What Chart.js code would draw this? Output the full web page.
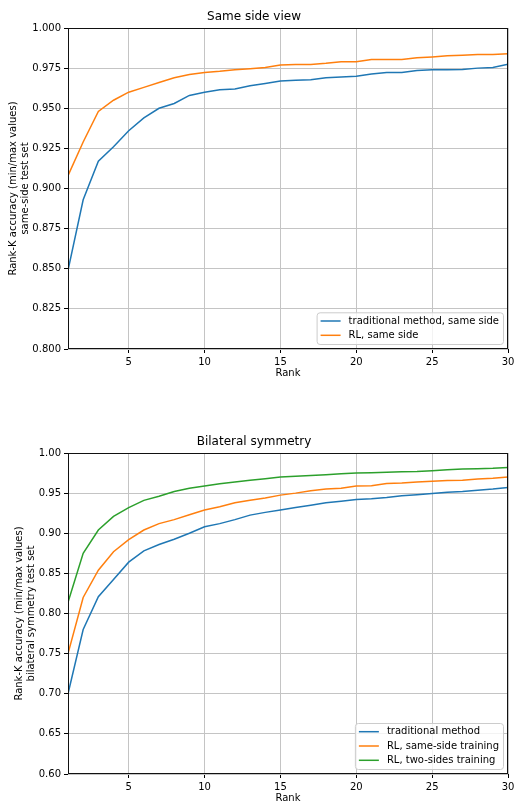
<!DOCTYPE html>
<html><head><meta charset="utf-8">
<script src="https://cdn.jsdelivr.net/npm/chart.js@4"></script>
<style>
html,body{margin:0;padding:0;background:#fff;overflow:hidden;width:514px;height:803px;position:relative}
canvas{display:block;position:absolute;left:0}
#c1{top:0}
#c2{top:400px}
</style></head><body>
<canvas id="c1" width="514" height="400"></canvas>
<canvas id="c2" width="514" height="420"></canvas>
<script>
// ---- data ----
const ranks = [1,2,3,4,5,6,7,8,9,10,11,12,13,14,15,16,17,18,19,20,21,22,23,24,25,26,27,28,29,30];
const rankTicks = [5,10,15,20,25,30];

const sameTraditional = [0.849,0.893,0.917,0.926,0.936,0.944,0.950,0.953,0.958,0.960,0.9615,0.962,0.964,0.9654,0.967,0.9675,0.9677,0.969,0.9694,0.970,0.9713,0.9723,0.9723,0.9735,0.974,0.974,0.9742,0.975,0.9754,0.9775];
const sameRL = [0.908,0.929,0.948,0.955,0.960,0.963,0.966,0.969,0.971,0.9723,0.973,0.974,0.9746,0.9754,0.977,0.9773,0.9773,0.978,0.979,0.979,0.9804,0.9804,0.9804,0.9815,0.982,0.9827,0.983,0.9835,0.9835,0.984];

const bilTraditional = [0.700,0.780,0.821,0.8425,0.864,0.878,0.886,0.8925,0.900,0.908,0.912,0.917,0.9226,0.926,0.929,0.932,0.935,0.938,0.940,0.942,0.943,0.9446,0.9467,0.948,0.9496,0.951,0.952,0.9535,0.955,0.957];
const bilRLSame = [0.750,0.820,0.854,0.877,0.892,0.904,0.912,0.917,0.923,0.929,0.933,0.938,0.941,0.944,0.9475,0.950,0.953,0.955,0.956,0.959,0.9593,0.962,0.9627,0.964,0.9647,0.9656,0.966,0.9677,0.9685,0.970];
const bilRLTwo = [0.814,0.875,0.904,0.921,0.932,0.941,0.946,0.952,0.956,0.959,0.9617,0.964,0.966,0.968,0.970,0.971,0.972,0.973,0.974,0.975,0.9755,0.976,0.9767,0.977,0.978,0.979,0.980,0.9805,0.981,0.982];

// ---- styling ----
const BLUE = '#1f77b4', ORANGE = '#ff7f0e', GREEN = '#2ca02c';
Chart.defaults.font.family = "'DejaVu Sans', sans-serif";
Chart.defaults.font.size = 10;
Chart.defaults.color = '#000';
Chart.defaults.animation = false;

const framePlugin = {
  id: 'frame',
  afterDatasetsDraw(chart) {
    const a = chart.chartArea, ctx = chart.ctx;
    ctx.save();
    ctx.strokeStyle = '#111';
    ctx.lineWidth = 1;
    const l = Math.round(a.left) + 0.5, t = Math.round(a.top) + 0.5;
    const r = Math.round(a.right) - 0.5, b = Math.round(a.bottom) - 0.5;
    ctx.strokeRect(l, t, r - l, b - t);
    ctx.restore();
  }
};

const boxLegendPlugin = {
  id: 'boxLegend',
  afterDraw(chart) {
    const ctx = chart.ctx, a = chart.chartArea;
    const ds = chart.data.datasets;
    ctx.save();
    ctx.font = "10px 'DejaVu Sans', sans-serif";
    let tw = 0;
    ds.forEach(d => { tw = Math.max(tw, ctx.measureText(d.label).width); });
    const padL = 4, lineW = 20, gap = 8, padR = 4, rowH = 14.3, padV = 8.7;
    const w = padL + lineW + gap + tw + padR;
    const h = 2 * padV + (ds.length - 1) * rowH;
    const x = a.right - 5 - w, y = a.bottom - 5 - h;
    ctx.beginPath();
    if (ctx.roundRect) ctx.roundRect(x + 0.5, y + 0.5, w, h, 3); else ctx.rect(x + 0.5, y + 0.5, w, h);
    ctx.fillStyle = 'rgba(255,255,255,0.8)';
    ctx.fill();
    ctx.strokeStyle = '#cccccc';
    ctx.lineWidth = 1;
    ctx.stroke();
    ds.forEach((d, i) => {
      const cy = y + padV + i * rowH;
      ctx.strokeStyle = d.borderColor;
      ctx.lineWidth = 1.5;
      ctx.beginPath();
      ctx.moveTo(x + padL, cy);
      ctx.lineTo(x + padL + lineW, cy);
      ctx.stroke();
      ctx.fillStyle = '#000';
      ctx.textBaseline = 'middle';
      ctx.textAlign = 'left';
      ctx.fillText(d.label, x + padL + lineW + gap, cy);
    });
    ctx.restore();
  }
};

function makeChart(id, cfg) {
  const datasets = cfg.series.map(s => ({
    label: s.label,
    data: ranks.map((r, i) => ({x: r, y: s.values[i]})),
    borderColor: s.color,
    backgroundColor: s.color,
    borderWidth: 1.5,
    pointRadius: 0,
    tension: 0,
    fill: false
  }));
  return new Chart(document.getElementById(id), {
    type: 'line',
    data: {datasets},
    plugins: [framePlugin, boxLegendPlugin],
    options: {
      responsive: false,
      layout: {padding: {left: 0, right: 6, top: 0, bottom: 0}},
      plugins: {
        legend: {display: false},
        tooltip: {enabled: false},
        title: {
          display: true,
          text: cfg.title,
          color: '#000',
          font: {size: 12, weight: 'normal', lineHeight: 1.2},
          padding: {top: cfg.titleTop, bottom: cfg.titleBottom}
        }
      },
      scales: {
        x: {
          type: 'linear',
          min: 1, max: 30,
          afterBuildTicks: s => { s.ticks = rankTicks.map(v => ({value: v})); },
          afterFit: s => { s.height = cfg.xHeight; s.paddingLeft = 0; s.paddingRight = 0; },
          ticks: {padding: 3, maxRotation: 0, color: '#000', font: {size: 10}},
          grid: {color: '#c4c4c4', lineWidth: 1, tickColor: '#000', tickLength: 4},
          border: {display: false},
          title: {display: true, text: 'Rank', color: '#000', font: {size: 10, lineHeight: 1.2}, padding: {top: 0, bottom: cfg.xTitleBottom}}
        },
        y: {
          type: 'linear',
          min: cfg.yMin, max: cfg.yMax,
          afterFit: s => { s.width = 68; s.paddingTop = 0; s.paddingBottom = 0; },
          ticks: {stepSize: cfg.yStep, padding: 3, color: '#000', font: {size: 10},
                  callback: v => Number(v).toFixed(cfg.yDec)},
          grid: {color: '#c4c4c4', lineWidth: 1, tickColor: '#000', tickLength: 4},
          border: {display: false},
          title: {display: true, text: cfg.yTitle, color: '#000', font: {size: 10, lineHeight: 1.2}, padding: {top: cfg.yTitleTop, bottom: 0}}
        }
      }
    }
  });
}

makeChart('c1', {
  title: 'Same side view', titleTop: 10, titleBottom: 3.6,
  xHeight: 51, xTitleBottom: 21,
  yMin: 0.8, yMax: 1.0, yStep: 0.025, yDec: 3,
  yTitle: ['Rank-K accuracy (min/max values)', 'same-side test set'], yTitleTop: 7,
  series: [
    {label: 'traditional method, same side', values: sameTraditional, color: BLUE},
    {label: 'RL, same side', values: sameRL, color: ORANGE}
  ]
});

makeChart('c2', {
  title: 'Bilateral symmetry', titleTop: 35, titleBottom: 3.6,
  xHeight: 46, xTitleBottom: 15.5,
  yMin: 0.6, yMax: 1.0, yStep: 0.05, yDec: 2,
  yTitle: ['Rank-K accuracy (min/max values)', 'bilateral symmetry test set'], yTitleTop: 13,
  series: [
    {label: 'traditional method', values: bilTraditional, color: BLUE},
    {label: 'RL, same-side training', values: bilRLSame, color: ORANGE},
    {label: 'RL, two-sides training', values: bilRLTwo, color: GREEN}
  ]
});
</script>
</body></html>
